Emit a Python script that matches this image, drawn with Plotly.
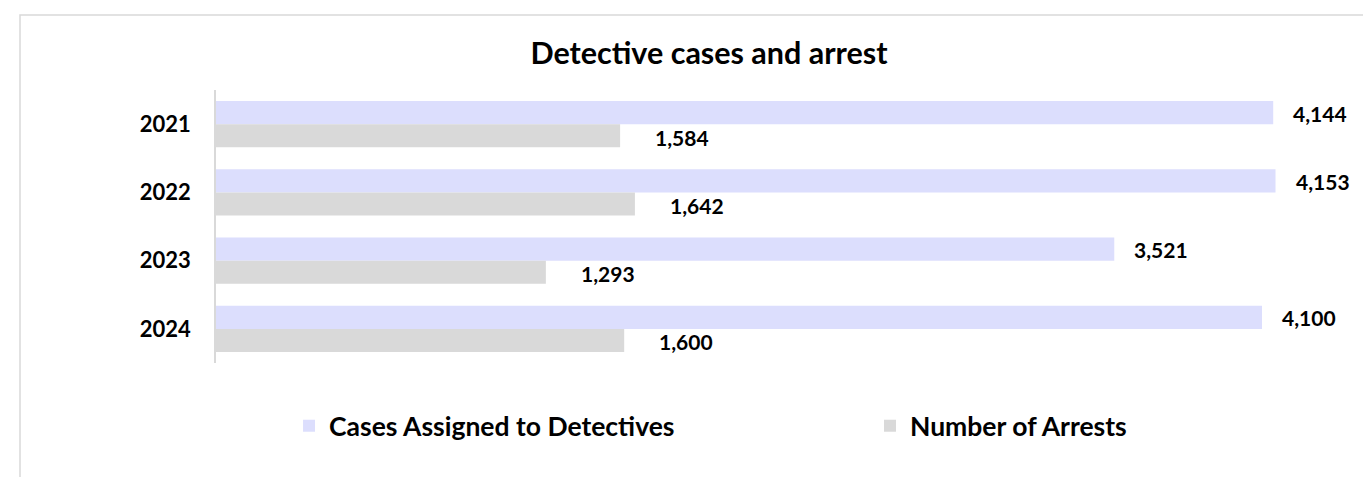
import plotly.graph_objects as go

years = ["2021", "2022", "2023", "2024"]
cases_assigned = [4144, 4153, 3521, 4100]
arrests = [1584, 1642, 1293, 1600]
series_names = ["Cases Assigned to Detectives", "Number of Arrests"]
title_text = "Detective cases and arrest"

FONT = "Lato"
BLUE = "#dcdefd"
GRAY = "#d9d9d9"

# page has an 8px body margin; layout is sized to compensate
W, H = 1363, 469
L, T = 208, 82
PW, PH = 1134, 273

fig = go.Figure()
fig.add_trace(go.Bar(y=years, x=cases_assigned, orientation="h", name=series_names[0],
                     marker=dict(color=BLUE, line=dict(width=0)), legend="legend",
                     showlegend=True))
fig.add_trace(go.Bar(y=years, x=arrests, orientation="h", name=series_names[1],
                     marker=dict(color=GRAY, line=dict(width=0)), legend="legend2",
                     showlegend=True))

label_font = dict(family=FONT, size=21, color="#000", weight="bold")
annotations = []
for i, v in enumerate(cases_assigned):
    annotations.append(dict(x=v, y=i, xref="x", yref="y", text=f"{v:,}", showarrow=False,
                            xanchor="left", yanchor="middle", xshift=18, yshift=11,
                            font=label_font))
for i, v in enumerate(arrests):
    annotations.append(dict(x=v, y=i, xref="x", yref="y", text=f"{v:,}", showarrow=False,
                            xanchor="left", yanchor="middle", xshift=33, yshift=-13,
                            font=label_font))

legend_common = dict(orientation="h", y=-0.2308, xanchor="left", yanchor="middle",
                     font=dict(family=FONT, size=26.5, color="#000", weight="bold"),
                     itemclick=False, bgcolor="rgba(0,0,0,0)")

fig.update_layout(
    width=W, height=H,
    margin=dict(l=L, r=W - L - PW, t=T, b=H - T - PH),
    paper_bgcolor="white", plot_bgcolor="white",
    showlegend=True,
    barmode="group", bargap=0.32, bargroupgap=0,
    title=dict(text=title_text, x=(709 - 8) / W, xref="container", y=1 - (53 - 8) / H,
               yref="container", xanchor="center", yanchor="middle",
               font=dict(family=FONT, size=30.5, color="#000", weight="bold")),
    xaxis=dict(range=[0, 4445], showgrid=False, zeroline=False, showticklabels=False,
               showline=False, fixedrange=True),
    yaxis=dict(type="category", range=[len(years) - 0.5, -0.5], showgrid=False, zeroline=False,
               showline=True, linecolor="#d9d9d9", linewidth=1.5, ticks="",
               ticklabelstandoff=19,
               tickfont=dict(family=FONT, size=22, color="#000", weight="bold")),
    legend=dict(x=0.0644, **legend_common),
    legend2=dict(x=0.5767, **legend_common),
    annotations=annotations,
    shapes=[dict(type="rect", xref="paper", yref="paper", x0=(20 - 216) / PW, x1=1.5,
                 y0=-1, y1=(363 - 15) / PH, line=dict(color="#d9d9d9", width=1.5),
                 fillcolor="rgba(0,0,0,0)", layer="below")],
)

fig.write_html("out.html")
